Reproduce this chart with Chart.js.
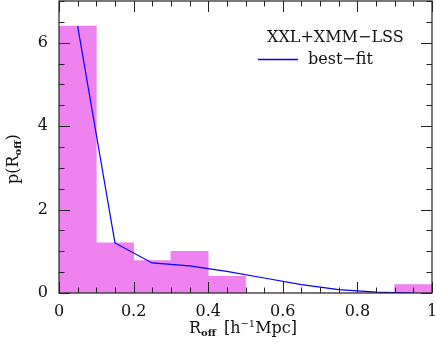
<!DOCTYPE html>
<html>
<head>
<meta charset="utf-8">
<script src="https://cdn.jsdelivr.net/npm/chart.js@4"></script>
<style>
  html, body { margin: 0; padding: 0; background: #fff; }
  #wrap { width: 436px; height: 347px; }
</style>
</head>
<body>
<div id="wrap"><canvas id="myChart" width="436" height="347"></canvas></div>
<script>
// histogram bins (centres) and heights
const binCenters = [0.05, 0.15, 0.25, 0.35, 0.45, 0.55, 0.65, 0.75, 0.85, 0.95];
const histValues = [6.4, 1.2, 0.78, 1.0, 0.4, 0, 0, 0, 0, 0.2];

// best-fit curve
const fitX = [0.05, 0.15, 0.25, 0.35, 0.45, 0.55, 0.65, 0.75, 0.85, 0.95];
const fitY = [6.4, 1.2, 0.72, 0.65, 0.52, 0.36, 0.2, 0.08, 0.02, 0.0];

const xTicks = [0, 0.2, 0.4, 0.6, 0.8, 1];
const yTicks = [0, 2, 4, 6];

const FONT = '"DejaVu Serif", "Liberation Serif", serif';

// frame, inward ticks on all four sides, titles and legend
const decorations = {
    id: 'decorations',
    afterDatasetsDraw(chart) {
        const ctx = chart.ctx;
        const a = chart.chartArea;
        const xs = chart.scales.x, ys = chart.scales.y;
        ctx.save();
        ctx.strokeStyle = '#222';
        ctx.lineWidth = 1.2;
        ctx.strokeRect(a.left, a.top, a.right - a.left, a.bottom - a.top);

        ctx.lineWidth = 1;
        ctx.beginPath();
        for (let i = 0; i <= 20; i++) {
            const v = i * 0.05;
            const px = Math.round(xs.getPixelForValue(v)) + 0.5;
            const len = (i % 4 === 0) ? 11 : 5.5;
            ctx.moveTo(px, a.bottom); ctx.lineTo(px, a.bottom - len);
            ctx.moveTo(px, a.top); ctx.lineTo(px, a.top + len);
        }
        for (let i = 0; i <= 14; i++) {
            const v = i * 0.5;
            const py = Math.round(ys.getPixelForValue(v)) + 0.5;
            const len = (i % 4 === 0) ? 11 : 5.5;
            ctx.moveTo(a.left, py); ctx.lineTo(a.left + len, py);
            ctx.moveTo(a.right, py); ctx.lineTo(a.right - len, py);
        }
        ctx.stroke();

        ctx.fillStyle = '#111';
        ctx.textBaseline = 'alphabetic';
        ctx.textAlign = 'left';

        // x title: R_off [h^-1 Mpc]
        let x = 189, y = 333;
        ctx.font = '16px ' + FONT;
        ctx.fillText('R', x, y); x += ctx.measureText('R').width;
        ctx.font = 'bold 10px ' + FONT;
        ctx.fillText('off', x, y + 3); x += ctx.measureText('off').width + 8;
        ctx.font = '16px ' + FONT;
        ctx.fillText('[h', x, y); x += ctx.measureText('[h').width;
        ctx.font = '10px ' + FONT;
        ctx.fillText('\u22121', x, y - 6); x += ctx.measureText('\u22121').width;
        ctx.font = '16px ' + FONT;
        ctx.fillText('Mpc]', x, y);

        // y title: p(R_off)
        ctx.save();
        ctx.translate(18, 184);
        ctx.rotate(-Math.PI / 2);
        x = 0;
        ctx.font = '16px ' + FONT;
        ctx.fillText('p(R', x, 0); x += ctx.measureText('p(R').width;
        ctx.font = 'bold 10px ' + FONT;
        ctx.fillText('off', x, 3); x += ctx.measureText('off').width;
        ctx.font = '16px ' + FONT;
        ctx.fillText(')', x, 0);
        ctx.restore();

        // legend
        ctx.font = '16px ' + FONT;
        ctx.fillText('XXL+XMM\u2212LSS', 267, 42);
        ctx.fillText('best\u2212fit', 308, 64);
        ctx.strokeStyle = '#0000ff';
        ctx.lineWidth = 1.3;
        ctx.beginPath();
        ctx.moveTo(258, 59.5); ctx.lineTo(298, 59.5);
        ctx.stroke();
        ctx.restore();
    }
};

const data = {
    datasets: [{
        type: 'line',
        label: 'best-fit',
        data: fitX.map((v, i) => ({ x: v, y: fitY[i] })),
        borderColor: '#0000ff',
        borderWidth: 1.2,
        pointRadius: 0,
        tension: 0,
        fill: false,
        order: 0
    }, {
        type: 'bar',
        label: 'XXL+XMM-LSS',
        data: binCenters.map((v, i) => ({ x: v, y: histValues[i] })),
        backgroundColor: 'rgb(238, 130, 238)',
        borderWidth: 0,
        barPercentage: 1,
        categoryPercentage: 1,
        order: 1
    }]
};

const config = {
    data: data,
    options: {
        responsive: false,
        animation: false,
        layout: { padding: { top: 1, right: 4, left: 0, bottom: 0 } },
        plugins: {
            legend: { display: false },
            tooltip: { enabled: false }
        },
        scales: {
            x: {
                type: 'linear',
                min: 0,
                max: 1,
                offset: false,
                grid: { display: false, drawTicks: false },
                border: { display: false },
                afterBuildTicks: s => { s.ticks = xTicks.map(v => ({ value: v })); },
                afterFit: s => { s.height = 54; s.paddingLeft = 0; s.paddingRight = 0; },
                ticks: {
                    color: '#111',
                    padding: 9,
                    maxRotation: 0,
                    font: { family: FONT, size: 16 },
                    callback: v => String(v)
                }
            },
            y: {
                type: 'linear',
                min: 0,
                max: 7,
                grid: { display: false, drawTicks: false },
                border: { display: false },
                afterBuildTicks: s => { s.ticks = yTicks.map(v => ({ value: v })); },
                afterFit: s => { s.width = 59; s.paddingTop = 0; s.paddingBottom = 0; },
                ticks: {
                    color: '#111',
                    padding: 11,
                    font: { family: FONT, size: 16 },
                    callback: v => String(v)
                }
            }
        }
    },
    plugins: [decorations]
};

const myChart = new Chart(
    document.getElementById('myChart'),
    config
);
</script>
</body>
</html>
